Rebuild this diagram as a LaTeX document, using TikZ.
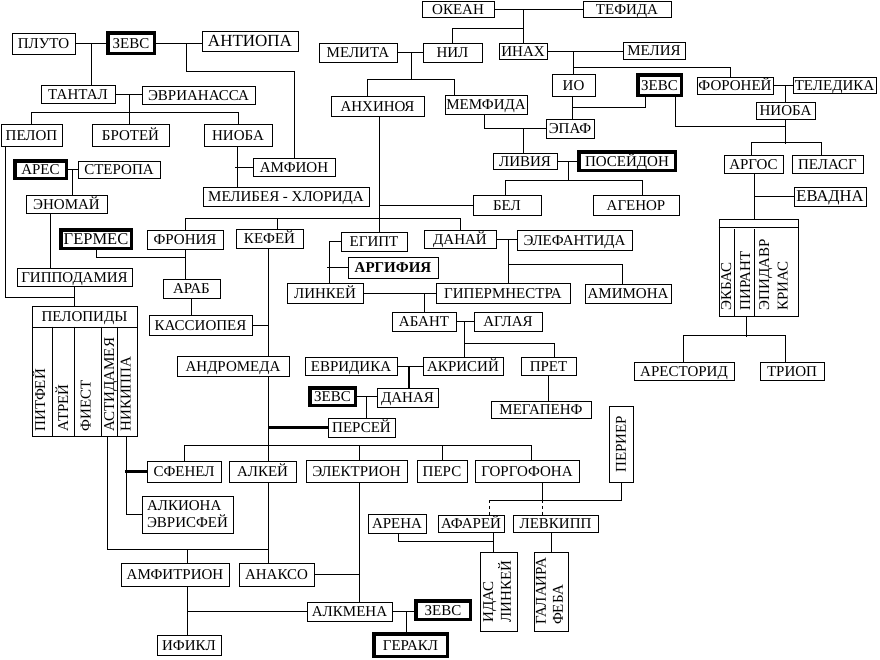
\documentclass[tikz,border=0pt]{standalone}
\usepackage{fontspec}
\setmainfont{Liberation Serif}
\usepackage{graphicx}
\usepackage{tikz}
\tikzset{
every node/.style={font=\fontsize{15pt}{17pt}\selectfont}, % text size of all names
box/.style={draw, inner sep=0pt, text height=10pt, text depth=0pt}, % a plain name box
zbox/.style={box, line width=3.5pt}, % the bold frames
rbox/.style={draw, inner sep=0pt}, % boxes with turned or two-line text
vname/.style={rotate=90, anchor=west, inner sep=0pt, text height=10pt, text depth=0pt}, % turned names in a column
bold/.style={line width=2.5pt}, % the heavy connectors
}

\begin{document}
\begin{tikzpicture}[x=1pt, y=-1pt, line width=1pt]
\path[use as bounding box, fill=white] (0,0) rectangle (880,659);

\node[box, minimum width=63, minimum height=21] (pluto) at (43.5,43.5) {ПЛУТО};
\node[zbox, minimum width=46.5, minimum height=20.5] (zeusA) at (131,43) {ЗЕВС};
\node[box, minimum width=96, minimum height=20, font=\fontsize{17pt}{19pt}\selectfont] (antiopa) at (250,41) {АНТИОПА};
\node[box, minimum width=74, minimum height=18] (tantal) at (78,94) {ТАНТАЛ};
\node[box, minimum width=113, minimum height=18] (evrian) at (198.5,95) {ЭВРИАНАССА};
\node[box, minimum width=61, minimum height=22] (pelop) at (31.5,135) {ПЕЛОП};
\node[box, minimum width=77, minimum height=22] (brotei) at (130.5,135) {БРОТЕЙ};
\node[box, minimum width=68, minimum height=22] (nioba) at (238,135) {НИОБА};
\node[box, minimum width=82, minimum height=18] (amphion) at (294,167) {АМФИОН};
\node[box, minimum width=166, minimum height=19] (melibea) at (286,196.5) {МЕЛИБЕЯ - ХЛОРИДА};
\node[zbox, minimum width=51.5, minimum height=17.5] (ares) at (40.5,169.5) {АРЕС};
\node[box, minimum width=82, minimum height=17] (steropa) at (119,169.5) {СТЕРОПА};
\node[box, minimum width=81, minimum height=18] (enomai) at (66.5,204) {ЭНОМАЙ};
\node[box, minimum width=115, minimum height=18] (gippo) at (74.5,277) {ГИППОДАМИЯ};
\node[box, minimum width=105, minimum height=21] (pelopidy) at (84.5,316.5) {ПЕЛОПИДЫ};
\node[rbox, minimum width=105, minimum height=109] (pkids) at (84.5,381.5) {};
\node[vname] (pitfei) at (40,432) {ПИТФЕЙ};
\node[vname] (atrei) at (63,432) {АТРЕЙ};
\node[vname] (fiest) at (85.5,432) {ФИЕСТ};
\node[vname] (astidam) at (109,432) {АСТИДАМЕЯ};
\node[vname] (nikippa) at (125.5,432) {НИКИППА};

\node[box, minimum width=72, minimum height=16] (okean) at (458,9) {ОКЕАН};
\node[box, minimum width=88, minimum height=16] (tefida) at (627,9) {ТЕФИДА};
\node[box, minimum width=78, minimum height=19] (melita) at (358,52.5) {МЕЛИТА};
\node[box, minimum width=59, minimum height=19] (nil) at (452.5,52.5) {НИЛ};
\node[box, minimum width=48, minimum height=16] (inah) at (523,51) {ИНАХ};
\node[box, minimum width=62, minimum height=17] (melia) at (654,50.5) {МЕЛИЯ};
\node[box, minimum width=93, minimum height=20] (anhinoya) at (377.5,106) {АНХИНОЯ};
\node[box, minimum width=82, minimum height=19] (memfida) at (486,104.5) {МЕМФИДА};
\node[box, minimum width=43, minimum height=22] (io) at (573.5,85) {ИО};
\node[zbox, minimum width=43.5, minimum height=20.5] (zeusB) at (659.5,85) {ЗЕВС};
\node[box, minimum width=48, minimum height=19] (epaf) at (570,128.5) {ЭПАФ};
\node[box, minimum width=64, minimum height=16] (livia) at (525,161) {ЛИВИЯ};
\node[zbox, minimum width=96.5, minimum height=18.5] (poseidon) at (627,161) {ПОСЕЙДОН};
\node[box, minimum width=68, minimum height=20] (bel) at (507,205) {БЕЛ};
\node[box, minimum width=86, minimum height=20] (agenor) at (636,205) {АГЕНОР};
\node[box, minimum width=76, minimum height=17] (foronei) at (735,85.5) {ФОРОНЕЙ};
\node[box, minimum width=83, minimum height=16] (teledika) at (834.5,85) {ТЕЛЕДИКА};
\node[box, minimum width=59, minimum height=17] (niobaB) at (785.5,110.5) {НИОБА};
\node[box, minimum width=59, minimum height=18] (argos) at (753.5,164) {АРГОС};
\node[box, minimum width=71, minimum height=18] (pelasg) at (827.5,164) {ПЕЛАСГ};
\node[box, minimum width=72, minimum height=19, font=\fontsize{16.5pt}{18pt}\selectfont] (evadna) at (830,196.5) {ЕВАДНА};
\node[rbox, minimum width=79, minimum height=97] (akids) at (758.5,267.5) {};
\node[vname] (ekbas) at (726,311) {ЭКБАС};
\node[vname] (pirant) at (745,311) {ПИРАНТ};
\node[vname] (epidavr) at (764,311) {ЭПИДАВР};
\node[vname] (krias) at (782.5,311) {КРИАС};
\node[box, minimum width=100, minimum height=18] (arestorid) at (684,371) {АРЕСТОРИД};
\node[box, minimum width=64, minimum height=18] (triop) at (792,371) {ТРИОП};

\node[zbox, minimum width=70.5, minimum height=18.5, font=\fontsize{16.5pt}{18pt}\selectfont] (germes) at (96,239) {ГЕРМЕС};
\node[box, minimum width=76, minimum height=19] (fronia) at (185,239.5) {ФРОНИЯ};
\node[box, minimum width=67, minimum height=19] (kefei) at (269.5,238.5) {КЕФЕЙ};
\node[box, minimum width=66, minimum height=19] (egipt) at (374,241.5) {ЕГИПТ};
\node[box, minimum width=72, minimum height=18] (danai) at (460,239) {ДАНАЙ};
\node[box, minimum width=115, minimum height=20] (elefant) at (574.5,240) {ЭЛЕФАНТИДА};
\node[box, minimum width=57, minimum height=19] (arab) at (191.5,288.5) {АРАБ};
\node[box, minimum width=90, minimum height=21, font=\fontsize{15pt}{17pt}\selectfont\bfseries] (argifia) at (393,267.5) {АРГИФИЯ};
\node[box, minimum width=76, minimum height=20] (linkei) at (325,293) {ЛИНКЕЙ};
\node[box, minimum width=134, minimum height=20] (giperm) at (503,293) {ГИПЕРМНЕСТРА};
\node[box, minimum width=86, minimum height=19] (amimona) at (628,293.5) {АМИМОНА};
\node[box, minimum width=103, minimum height=20] (kassiop) at (200.5,325) {КАССИОПЕЯ};
\node[box, minimum width=64, minimum height=19] (abant) at (424,321.5) {АБАНТ};
\node[box, minimum width=68, minimum height=19] (aglaya) at (508,321.5) {АГЛАЯ};
\node[box, minimum width=112, minimum height=20] (androm) at (233,366) {АНДРОМЕДА};
\node[box, minimum width=92, minimum height=18] (evridika) at (351,366) {ЕВРИДИКА};
\node[box, minimum width=80, minimum height=18] (akrisii) at (463,366) {АКРИСИЙ};
\node[box, minimum width=55, minimum height=18] (pret) at (548.5,366) {ПРЕТ};
\node[zbox, minimum width=45.5, minimum height=17.5] (zeusC) at (332.5,396.5) {ЗЕВС};
\node[box, minimum width=61, minimum height=19] (danaya) at (407.5,397.5) {ДАНАЯ};
\node[box, minimum width=100, minimum height=17] (megapenf) at (541,409.5) {МЕГАПЕНФ};
\node[box, minimum width=67, minimum height=19] (persei) at (361.5,427.5) {ПЕРСЕЙ};
\node[box, minimum width=74, minimum height=21] (sfenel) at (184,471.5) {СФЕНЕЛ};
\node[box, minimum width=67, minimum height=21] (alkei) at (262.5,471.5) {АЛКЕЙ};
\node[box, minimum width=101, minimum height=22] (elektrion) at (356.5,471) {ЭЛЕКТРИОН};
\node[box, minimum width=50, minimum height=22] (pers) at (442,471) {ПЕРС};
\node[box, minimum width=104, minimum height=22] (gorgofona) at (527,471) {ГОРГОФОНА};
\node[rbox, minimum width=24, minimum height=76] (perier) at (621,444) {\rotatebox{90}{ПЕРИЕР}};
\node[rbox, minimum width=91, minimum height=37, align=left] (alkiona) at (187.5,514.5) {АЛКИОНА\\ЭВРИСФЕЙ};
\node[box, minimum width=58, minimum height=19] (arena) at (397,523.5) {АРЕНА};
\node[box, minimum width=66, minimum height=17] (afarei) at (471,523.5) {АФАРЕЙ};
\node[box, minimum width=85, minimum height=17] (levkipp) at (555.5,523.5) {ЛЕВКИПП};
\node[box, minimum width=108, minimum height=23] (amfitrion) at (175,574.5) {АМФИТРИОН};
\node[box, minimum width=75, minimum height=23] (anakso) at (276.5,574.5) {АНАКСО};
\node[rbox, minimum width=37, minimum height=79] (idas) at (498.5,591.5) {\rotatebox{90}{\begin{tabular}{@{}l@{}}ИДАС\\ЛИНКЕЙ\end{tabular}}};
\node[rbox, minimum width=34, minimum height=79] (galaira) at (551,591.5) {\rotatebox{90}{\begin{tabular}{@{}l@{}}ГАЛАИРА\\ФЕБА\end{tabular}}};
\node[box, minimum width=64, minimum height=20] (ifikl) at (189,645) {ИФИКЛ};
\node[box, minimum width=85, minimum height=19] (alkmena) at (349.5,611.5) {АЛКМЕНА};
\node[zbox, minimum width=54.5, minimum height=18.5] (zeusD) at (443,610) {ЗЕВС};
\node[zbox, minimum width=73.5, minimum height=22.5] (gerakl) at (410.5,645) {ГЕРАКЛ};

% column rules inside the two family boxes
\draw (pkids.north -| 52,0) -- (pkids.south -| 52,0);
\draw (pkids.north -| 74,0) -- (pkids.south -| 74,0);
\draw (pkids.north -| 101,0) -- (pkids.south -| 101,0);
\draw (pkids.north -| 117,0) -- (pkids.south -| 117,0);
\draw (akids.north west) ++(0,9) -- ++(79,0);
\draw (akids.south -| 734,0) -- ++(0,-88);
\draw (akids.south -| 754,0) -- ++(0,-88);

% Zeus, Pluto, Antiopa
\coordinate (pz) at (91,43.5);
\coordinate (za) at (186,43);
\draw (pluto.east) -- (pluto.east -| zeusA.west);
\draw (zeusA.east) -- (zeusA.east -| antiopa.west);
\draw (pz) -- (pz |- tantal.north);
\draw (za) -- ++(0,28) -| (amphion.north);
\draw (tantal.east) -- (tantal.east -| evrian.west);
\coordinate (te) at (129,94);
\draw (te) -- (te |- brotei.north);
\draw (pelop.north) -- ++(0,-11) -| (nioba.north);
\draw (pelop.south -| 5,0) |- ([yshift=-11pt]gippo.south);
\draw (gippo.south) -- (gippo.south |- pelopidy.north);
\draw (ares.east) -- (ares.east -| steropa.west);
\coordinate (as) at (72,169.5);
\draw (as) -- (as |- enomai.north);
\draw (enomai.south -| 50,0) -- (gippo.north -| 50,0);
\draw (nioba.south -| 237,0) -- (melibea.north -| 237,0);
\draw (amphion.west) -- (amphion.west -| 235,0);

% Hermes, Kepheus, Perseus
\draw (germes.south) -- ++(0,7) -| (fronia.south);
\draw (fronia.south) -- (arab.north -| fronia.south);
\draw (arab.south) -- (arab.south |- kassiop.north);
\draw (kefei.south -| 268,0) -- (androm.north -| 268,0);
\draw (kassiop.east) -- (kassiop.east -| 268,0);
\draw (androm.south -| 268,0) -- (alkei.north -| 268,0);
\draw[bold] (persei.west) -- (persei.west -| 268,0);
\draw (sfenel.north) -- ++(0,-15) -| (gorgofona.north -| 531,0);
\draw (elektrion.north -| 359,0) -- ++(0,-14);
\draw (pers.north) -- ++(0,-14);
\draw (alkei.south -| 268,0) -- (anakso.north -| 268,0);
\coordinate (aa) at (268,549);
\draw (pkids.south -| 107,0) |- (aa);
\draw (amfitrion.north -| 187,0) -- ++(0,-14);
\draw (pkids.south -| 126,0) |- (alkiona.west);
\draw[bold] (sfenel.west) -- (sfenel.west -| 125,0);
\draw (amfitrion.south -| 187,0) -- (ifikl.north -| 187,0);
\draw (alkmena.west) -- (alkmena.west -| 188,0);
\draw (elektrion.south -| 359,0) -- (alkmena.north -| 359,0);
\draw (anakso.east) -- (anakso.east -| 359,0);
\draw (alkmena.east) -- (alkmena.east -| zeusD.west);
\draw (alkmena.east -| 406,0) -- (gerakl.north -| 406,0);

% Okean, Inach, Nil
\draw (okean.east) -- (okean.east -| tefida.west);
\draw (okean.east -| inah.north) -- (inah.north);
\draw (nil.north) -- ++(0,-14) -- ++(70.5,0);
\draw (melita.east) -- (melita.east -| nil.west);
\coordinate (mn) at (411,52.5);
\draw (mn) -- ++(0,27.5);
\draw (anhinoya.north -| 367,0) -- ++(0,-16) -| (memfida.north -| 454,0);
\draw (inah.east) -- (inah.east -| melia.west);
\coordinate (im) at (573,51);
\draw (im) -- (im |- io.north);
\draw (im) ++(0,16) -| (foronei.north -| 730,0);
\draw (io.south -| 572,0) -- (epaf.north -| 572,0);
\draw (io.south -| 572,0) ++(0,11) -| (zeusB.south -| 645,0);
\draw (memfida.south -| 484,0) |- (epaf.west);
\draw (epaf.west -| 523,0) -- (livia.north -| 523,0);
\draw (livia.east) -- (livia.east -| poseidon.west);
\draw (livia.east -| 568,0) -- ++(0,20);
\draw (bel.north -| 505,0) -- ++(0,-14) -| (agenor.north -| 642,0);
\draw (anhinoya.south -| 379,0) -- (egipt.north -| 379,0);
\draw (bel.west) -- (bel.west -| 379,0);
\draw (fronia.north) -- ++(0,-11) -| (danai.north);
\draw (kefei.north -| 277,0) -- ++(0,-10);

% Aegyptus, Danaus
\draw (egipt.west) -| (linkei.north -| 329,0);
\draw (argifia.west) -- (argifia.west -| 327,0);
\draw (danai.east) -- (danai.east -| elefant.west);
\draw (danai.east -| 508,0) -- (giperm.north -| 508,0);
\draw (giperm.north -| 508,0) ++(0,-18) -| (amimona.north -| 622,0);
\draw (linkei.east) -- (linkei.east -| giperm.west);
\draw (linkei.east -| abant.north) -- (abant.north);
\draw (abant.east) -- (abant.east -| aglaya.west);
\draw (abant.east -| 464,0) -- (akrisii.north -| 464,0);
\draw (akrisii.north -| 464,0) ++(0,-13) -| (pret.north -| 554,0);
\draw (evridika.east) -- (evridika.east -| akrisii.west);
\draw[bold] (evridika.east -| 409,0) -- (danaya.north -| 409,0);
\draw (zeusC.east) -- (zeusC.east -| danaya.west);
\draw (zeusC.east -| 366,0) -- (persei.north -| 366,0);
\draw (pret.south) -- (pret.south |- megapenf.north);

% Phoroneus, Argos
\draw (foronei.east) -- (foronei.east -| teledika.west);
\draw (foronei.east -| niobaB.north) -- (niobaB.north);
\draw (zeusB.south -| 675,0) |- ([yshift=-7pt]niobaB.south);
\draw (niobaB.south) -- ++(0,24);
\draw (argos.north -| 751,0) -- ++(0,-12) -| (pelasg.north -| 821,0);
\draw (argos.south -| 754,0) -- (akids.north -| 754,0);
\draw (evadna.west) -- (evadna.west -| 754,0);
\draw (akids.south -| 746,0) -- ++(0,20);
\draw (arestorid.north -| 683,0) -- ++(0,-26) -| (triop.north -| 785,0);

% Perieres, Aphareus, Leukippos
\coordinate (pg) at (489,500);
\draw (perier.south) |- (pg);
\draw[dashed] (pg) -- (pg |- afarei.north);
\draw (gorgofona.south -| 542,0) -- ++(0,17);
\draw[dashed] (gorgofona.south -| 542,0) ++(0,17) -- (levkipp.north -| 542,0);
\draw (arena.south -| 398,0) -- ++(0,8) -| (idas.north -| 493,0);
\draw (afarei.south -| 493,0) -- ++(0,9);
\draw (levkipp.south -| 551,0) -- (galaira.north -| 551,0);
\end{tikzpicture}
\end{document}
